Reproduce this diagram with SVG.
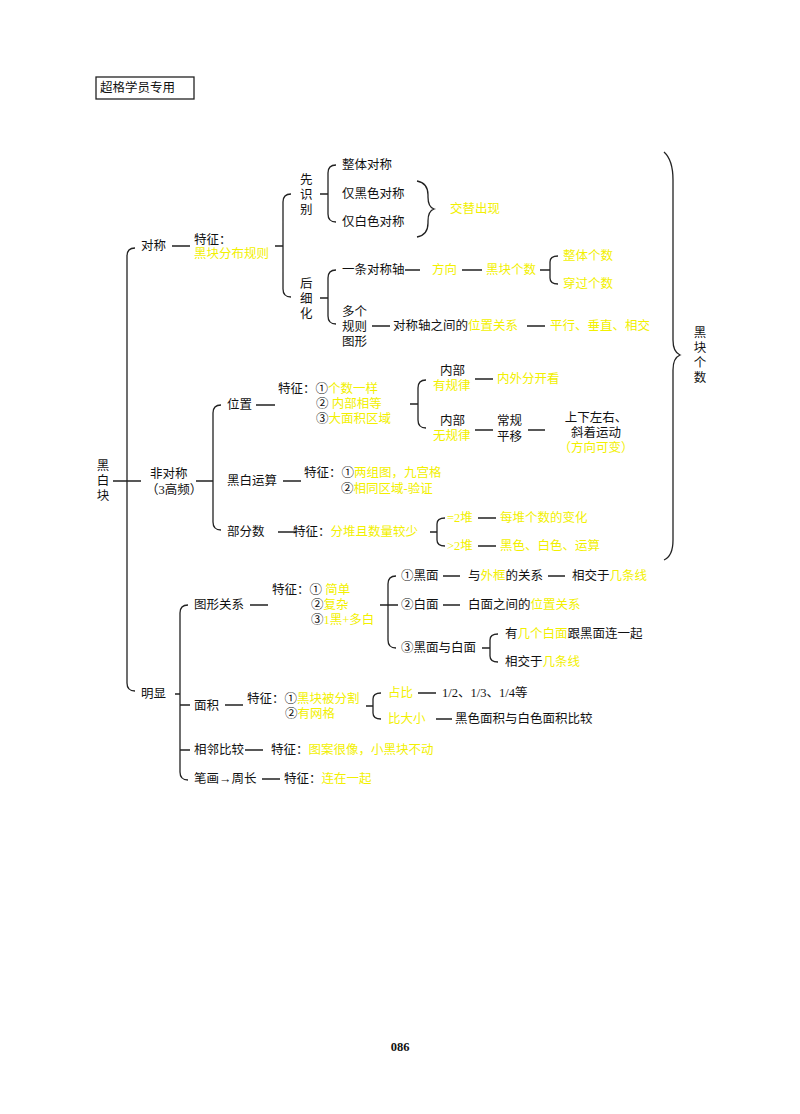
<svg xmlns="http://www.w3.org/2000/svg" width="800" height="1114" viewBox="0 0 800 1114">
<style>
text{font-family:"Liberation Serif","Noto Sans CJK SC",serif;font-size:12.5px;dominant-baseline:central}
.t{fill:#111}
.y{fill:#f2f000}
.ln{stroke:#222;stroke-width:1.3;fill:none}
</style>
<rect width="800" height="1114" fill="#fff"/>
<g id="header"><rect x="96" y="77" width="98" height="22" class="ln"/><text x="100" y="88" class="t" font-size="13">超格学员专用</text></g>
<g id="connectors">
<path class="ln" d="M113 481H127 M135 248Q127 248 127 256V683Q127 691 135 691 M127 481H141 M172 246H190 M275 246H283 M291 194Q283 194 283 202V289Q283 297 291 297 M320 194H328 M336 165Q328 165 328 173V214Q328 222 336 222 M320 298H328 M336 270Q328 270 328 278V316Q328 324 336 324"/>
<path class="ln" d="M417 181Q428 183 428 195V197Q428 207 434 209Q428 211 428 221V223Q428 235 417 237"/>
<path class="ln" d="M405 270H420 M462 270H482 M540 270H550 M558 256Q550 256 550 262V278Q550 284 558 284 M372 326H390 M527 326H545"/>
<path class="ln" d="M664 152Q673 160 673 180V340Q673 352 680 355Q673 358 673 370V540Q673 556 664 560"/>
<path class="ln" d="M196 481H213 M221 405Q213 405 213 413V522Q213 530 221 530 M256 405H275 M410 404H418 M426 380Q418 380 418 388V420Q418 428 426 428 M475 379H493 M475 430H493 M528 430H545 M283 481H301 M278 532H296 M430 532H437 M445 518Q437 518 437 524V540Q437 546 445 546 M478 518H496 M478 546H496"/>
<path class="ln" d="M175 694H180 M188 605Q180 605 180 613V772Q180 780 188 780 M180 705H190 M180 750H190 M250 605H268 M380 605H388 M396 576Q388 576 388 584V640Q388 648 396 648 M388 605H398 M443 576H460 M548 576H565 M443 605H460 M482 648H490 M498 634Q490 634 490 640V656Q490 662 498 662 M225 705H243 M366 706H373 M381 693Q373 693 373 699V713Q373 719 381 719 M418 693H436 M436 719H452 M245 750H263 M262 779H280"/>
</g>
<g id="root"><text x="103" y="466" class="t" text-anchor="middle">黑</text><text x="103" y="481" class="t" text-anchor="middle">白</text><text x="103" y="496" class="t" text-anchor="middle">块</text></g>
<g id="sym"><text x="141" y="246" class="t">对称</text><text x="194" y="240" class="t">特征：</text><text x="194" y="254" class="y">黑块分布规则</text>
<text x="300" y="180" class="t">先</text><text x="300" y="195" class="t">识</text><text x="300" y="210" class="t">别</text>
<text x="342" y="165" class="t">整体对称</text><text x="342" y="194" class="t">仅黑色对称</text><text x="342" y="222" class="t">仅白色对称</text><text x="450" y="209" class="y">交替出现</text>
<text x="300" y="284" class="t">后</text><text x="300" y="299" class="t">细</text><text x="300" y="314" class="t">化</text>
<text x="342" y="270" class="t">一条对称轴</text><text x="432" y="270" class="y">方向</text><text x="486" y="270" class="y">黑块个数</text><text x="563" y="256" class="y">整体个数</text><text x="563" y="284" class="y">穿过个数</text>
<text x="342" y="312" class="t">多个</text><text x="342" y="327" class="t">规则</text><text x="342" y="342" class="t">图形</text>
<text x="393" y="326" class="t">对称轴之间的<tspan class="y">位置关系</tspan></text><text x="550" y="326" class="y">平行、垂直、相交</text></g>
<g id="count"><text x="700" y="333" class="t" text-anchor="middle">黑</text><text x="700" y="348" class="t" text-anchor="middle">块</text><text x="700" y="363" class="t" text-anchor="middle">个</text><text x="700" y="378" class="t" text-anchor="middle">数</text></g>
<g id="asym"><text x="150" y="474" class="t">非对称</text><text x="146" y="490" class="t">（3高频）</text>
<text x="227" y="405" class="t">位置</text><text x="278" y="389" class="t">特征：①<tspan class="y">个数一样</tspan></text><text x="316" y="404" class="t">② <tspan class="y">内部相等</tspan></text><text x="316" y="419" class="t">③<tspan class="y">大面积区域</tspan></text>
<text x="440" y="371" class="t">内部</text><text x="433" y="386" class="y">有规律</text><text x="440" y="421" class="t">内部</text><text x="433" y="436" class="y">无规律</text>
<text x="497" y="379" class="y">内外分开看</text><text x="497" y="421" class="t">常规</text><text x="497" y="437" class="t">平移</text>
<text x="596" y="418" class="t" text-anchor="middle">上下左右、</text><text x="596" y="433" class="t" text-anchor="middle">斜着运动</text><text x="596" y="448" class="y" text-anchor="middle">（方向可变）</text>
<text x="227" y="481" class="t">黑白运算</text><text x="304" y="473" class="t">特征：①<tspan class="y">两组图，九宫格</tspan></text><text x="341" y="489" class="t">②<tspan class="y">相同区域-验证</tspan></text>
<text x="227" y="532" class="t">部分数</text><text x="293" y="532" class="t">特征：<tspan class="y">分堆且数量较少</tspan></text>
<text x="447" y="518" class="y">=2堆</text><text x="500" y="518" class="y">每堆个数的变化</text><text x="447" y="546" class="y">&gt;2堆</text><text x="500" y="546" class="y">黑色、白色、运算</text></g>
<g id="obvious"><text x="141" y="694" class="t">明显</text>
<text x="194" y="605" class="t">图形关系</text><text x="272" y="590" class="t">特征：① <tspan class="y">简单</tspan></text><text x="311" y="605" class="t">②<tspan class="y">复杂</tspan></text><text x="311" y="620" class="t">③<tspan class="y">1黑+多白</tspan></text>
<text x="401" y="576" class="t">①黑面</text><text x="468" y="576" class="t">与<tspan class="y">外框</tspan>的关系</text><text x="572" y="576" class="t">相交于<tspan class="y">几条线</tspan></text>
<text x="401" y="605" class="t">②白面</text><text x="468" y="605" class="t">白面之间的<tspan class="y">位置关系</tspan></text>
<text x="401" y="648" class="t">③黑面与白面</text><text x="505" y="634" class="t">有<tspan class="y">几个白面</tspan>跟黑面连一起</text><text x="505" y="662" class="t">相交于<tspan class="y">几条线</tspan></text>
<text x="194" y="706" class="t">面积</text><text x="247" y="699" class="t">特征：①<tspan class="y">黑块被分割</tspan></text><text x="285" y="714" class="t">②<tspan class="y">有网格</tspan></text>
<text x="388" y="693" class="y">占比</text><text x="442" y="693" class="t">1/2、1/3、1/4等</text><text x="388" y="719" class="y">比大小</text><text x="455" y="719" class="t">黑色面积与白色面积比较</text>
<text x="194" y="750" class="t">相邻比较</text><text x="271" y="750" class="t">特征：<tspan class="y">图案很像，小黑块不动</tspan></text>
<text x="194" y="779" class="t">笔画→周长</text><text x="284" y="779" class="t">特征：<tspan class="y">连在一起</tspan></text></g>
<text x="400" y="1047" class="t" text-anchor="middle" font-weight="bold" font-size="13">086</text>
</svg>
